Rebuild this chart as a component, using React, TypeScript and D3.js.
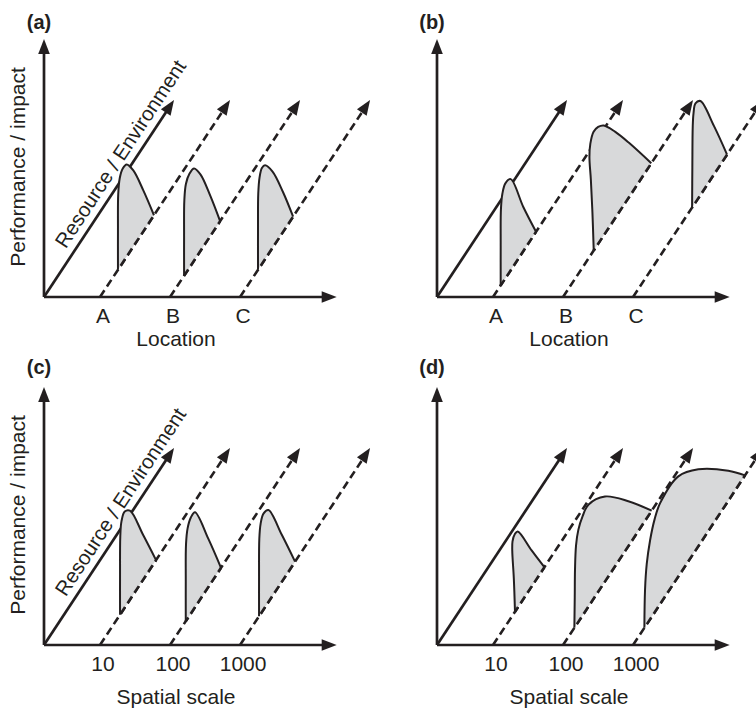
import React, { useEffect, useRef } from 'react';
import * as d3 from 'd3';

type Pt = [number, number];

const panelLabels = ['(a)', '(b)', '(c)', '(d)'];
const locationTicks = ['A', 'B', 'C'];
const scaleTicks = ['10', '100', '1000'];
const axisTitles = ['Location', 'Location', 'Spatial scale', 'Spatial scale'];
const yTitle = 'Performance / impact';
const diagTitle = 'Resource / Environment';
// where the dashed resource axes leave the horizontal axis (solid one sits at 0)
const linePositions = [0.8, 1.8, 2.8];

// [resource / environment (0-1), performance (% of axis)] for each location A, B, C
const curvesA: Pt[][] = [
  [[0.138, 0], [0.138, 15.5], [0.14, 29.1], [0.152, 34.5], [0.175, 36.4], [0.205, 35.7], [0.256, 29.5], [0.333, 15.9], [0.415, 0]],
  [[0.108, 0], [0.108, 15.5], [0.11, 29.1], [0.122, 34.5], [0.15, 36.4], [0.185, 35.7], [0.235, 29.5], [0.31, 15.5], [0.385, 0]],
  [[0.138, 0], [0.138, 15.5], [0.14, 29.5], [0.15, 34.9], [0.168, 37.2], [0.192, 36.4], [0.25, 29.5], [0.33, 15.5], [0.408, 0]],
];
const curvesB: Pt[][] = [
  [[0.059, 0], [0.059, 15.5], [0.061, 29.5], [0.072, 34.5], [0.095, 36.8], [0.136, 35.3], [0.233, 17.1], [0.331, 0]],
  [[0.236, 0], [0.226, 15.5], [0.214, 29.1], [0.203, 38.8], [0.21, 43.4], [0.235, 46.1], [0.27, 45.3], [0.313, 42.6], [0.402, 33.3], [0.505, 21.3], [0.679, 0]],
  [[0.454, 0], [0.456, 15.5], [0.459, 31], [0.465, 35.7], [0.48, 38.4], [0.518, 36.4], [0.621, 19], [0.723, 0]],
];
const curvesC: Pt[][] = [
  [[0.154, 0], [0.154, 15.5], [0.156, 30.2], [0.165, 35.3], [0.19, 37.2], [0.23, 34.5], [0.333, 17.1], [0.431, 0]],
  [[0.121, 0], [0.121, 15.5], [0.123, 29.8], [0.135, 34.9], [0.16, 37.2], [0.192, 36.8], [0.295, 18.6], [0.392, 0]],
  [[0.146, 0], [0.146, 15.5], [0.148, 29.8], [0.158, 34.9], [0.18, 37.2], [0.218, 35.7], [0.321, 18.2], [0.423, 0]],
];
const curvesD: Pt[][] = [
  [[0.169, 0], [0.16, 13.6], [0.148, 25.2], [0.15, 28.7], [0.169, 30.2], [0.19, 29.5], [0.297, 14], [0.395, 0]],
  [[0.087, 0], [0.09, 11.6], [0.092, 22.1], [0.1, 31], [0.118, 35.7], [0.15, 38.4], [0.195, 39.5], [0.323, 32.9], [0.502, 17.4], [0.682, 0]],
  [[0.087, 0], [0.092, 14.3], [0.105, 23.3], [0.131, 30.6], [0.165, 36], [0.208, 39.1], [0.348, 38.8], [0.502, 29.8], [0.733, 11.6], [0.861, 0]],
];

const FONT = "'Liberation Sans', Arial, Helvetica, sans-serif";
const INK = '#231f20';
const FILL = '#d8d9da';
const DASH = '8,4.5';

const App: React.FC = () => {
  const ref = useRef<SVGSVGElement>(null);

  useEffect(() => {
    if (!ref.current) return;
    const svg = d3.select(ref.current);
    svg.selectAll('*').remove();

    const colX = [44, 437];
    const rowY = [297, 645];

    const x = d3.scaleLinear().domain([0, 4.18]).range([0, 292.7]);
    const envX = d3.scaleLinear().domain([0, 1]).range([0, 130]);
    const envY = d3.scaleLinear().domain([0, 1]).range([0, -197]);
    const perfY = d3.scaleLinear().domain([0, 100]).range([0, -258]);

    const diagLen = Math.hypot(envX(1), envY(1));
    const dir: Pt = [envX(1) / diagLen, envY(1) / diagLen];
    const nrm: Pt = [dir[1], -dir[0]];
    const angle = (Math.atan2(envY(1), envX(1)) * 180) / Math.PI;

    const project = (loc: number, e: number, p: number): Pt => [
      x(loc) + envX(e),
      envY(e) + perfY(p),
    ];

    const curvesAll = [curvesA, curvesB, curvesC, curvesD];

    // line ending in a filled arrow head
    const arrow = (
      g: d3.Selection<SVGGElement, unknown, null, undefined>,
      from: Pt,
      to: Pt,
      dashed: boolean
    ) => {
      const len = Math.hypot(to[0] - from[0], to[1] - from[1]);
      const u: Pt = [(to[0] - from[0]) / len, (to[1] - from[1]) / len];
      const headL = 15;
      const headW = 5.8;
      g.append('line')
        .attr('x1', from[0])
        .attr('y1', from[1])
        .attr('x2', to[0] - u[0] * (headL - 4))
        .attr('y2', to[1] - u[1] * (headL - 4))
        .attr('stroke', INK)
        .attr('stroke-width', dashed ? 2.6 : 2.7)
        .attr('stroke-dasharray', dashed ? DASH : null);
      const bx = to[0] - u[0] * headL;
      const by = to[1] - u[1] * headL;
      g.append('path')
        .attr(
          'd',
          `M${to[0]},${to[1]}L${bx - u[1] * headW},${by + u[0] * headW}L${bx + u[1] * headW},${by - u[0] * headW}Z`
        )
        .attr('fill', INK);
    };

    const line = d3
      .line<Pt>()
      .x(d => d[0])
      .y(d => d[1])
      .curve(d3.curveCatmullRom.alpha(0.5));

    panelLabels.forEach((label, i) => {
      const col = i % 2;
      const row = Math.floor(i / 2);
      const g = svg.append('g').attr('transform', `translate(${colX[col]},${rowY[row]})`);

      // axes
      arrow(g, [0, 0], [0, perfY(100)], false);
      arrow(g, [0, 0], [x(4.18), 0], false);

      // resource axes: solid one from the origin, dashed ones at each location
      arrow(g, project(0, 0, 0), project(0, 1, 0), false);
      linePositions.forEach(loc => arrow(g, project(loc, 0, 0), project(loc, 1, 0), true));

      // performance curves
      curvesAll[i].forEach((pts, k) => {
        const loc = linePositions[k];
        const screen = pts.map(d => project(loc, d[0], d[1]));
        g.append('path').attr('d', line(screen) + 'Z').attr('fill', FILL).attr('stroke', 'none');
        const t0 = pts[0][0];
        const t1 = pts[pts.length - 1][0];
        const a = project(loc, t0, 0);
        const b = project(loc, t1, 0);
        g.append('line')
          .attr('x1', a[0])
          .attr('y1', a[1])
          .attr('x2', b[0])
          .attr('y2', b[1])
          .attr('stroke', INK)
          .attr('stroke-width', 2.6)
          .attr('stroke-dasharray', DASH)
          .attr('stroke-dashoffset', t0 * diagLen);
        g.append('path')
          .attr('d', line(screen))
          .attr('fill', 'none')
          .attr('stroke', INK)
          .attr('stroke-width', 2)
          .attr('stroke-linejoin', 'round');
      });

      // tick labels and axis title
      const ticks = row === 0 ? locationTicks : scaleTicks;
      ticks.forEach((t, k) => {
        g.append('text')
          .attr('x', x(linePositions[k]) + 3)
          .attr('y', 26)
          .attr('text-anchor', 'middle')
          .attr('font-family', FONT)
          .attr('font-size', 21)
          .attr('fill', INK)
          .text(t);
      });
      g.append('text')
        .attr('x', 132)
        .attr('y', row === 0 ? 49 : 59)
        .attr('text-anchor', 'middle')
        .attr('font-family', FONT)
        .attr('font-size', 21)
        .attr('fill', INK)
        .text(axisTitles[i]);

      // panel label
      g.append('text')
        .attr('x', -5)
        .attr('y', row === 0 ? -268 : -271)
        .attr('text-anchor', 'middle')
        .attr('font-family', FONT)
        .attr('font-size', 20)
        .attr('font-weight', 'bold')
        .attr('fill', INK)
        .text(label);

      if (col === 0) {
        g.append('text')
          .attr('transform', `translate(-19,${perfY(50.4)}) rotate(-90)`)
          .attr('text-anchor', 'middle')
          .attr('font-family', FONT)
          .attr('font-size', 21)
          .attr('fill', INK)
          .text(yTitle);

        const s = 0.685 * diagLen;
        const px = dir[0] * s + nrm[0] * 8;
        const py = dir[1] * s + nrm[1] * 8;
        g.append('text')
          .attr('transform', `translate(${px},${py}) rotate(${angle})`)
          .attr('text-anchor', 'middle')
          .attr('font-family', FONT)
          .attr('font-size', 20.5)
          .attr('fill', INK)
          .text(diagTitle);
      }
    });
  }, []);

  return (
    <svg
      ref={ref}
      width={756}
      height={711}
      style={{ position: 'absolute', left: 0, top: 0, background: '#fff' }}
    />
  );
};

export default App;
